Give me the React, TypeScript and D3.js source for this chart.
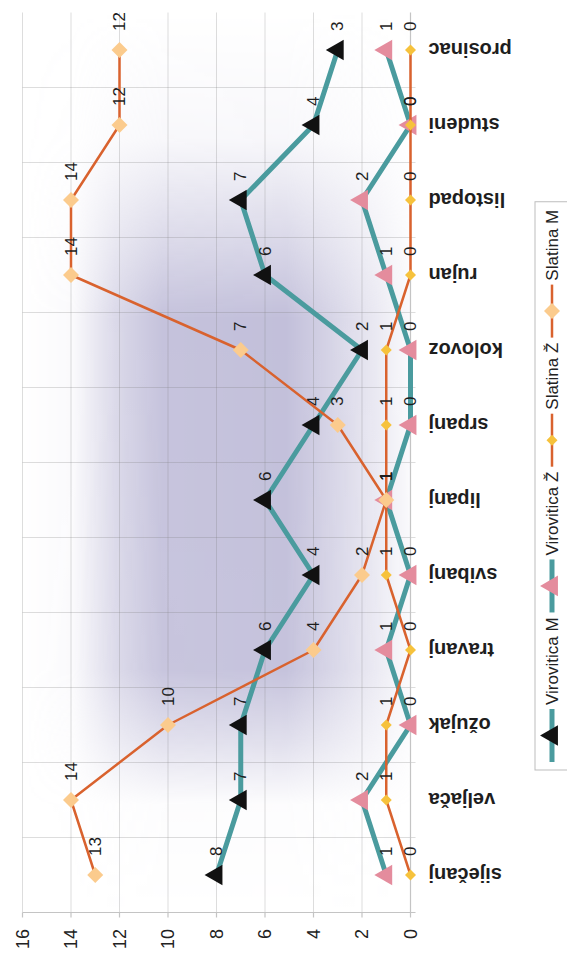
import * as d3 from "d3";

// chart data (months in Croatian)
const months = [
  "siječanj",
  "veljača",
  "ožujak",
  "travanj",
  "svibanj",
  "lipanj",
  "srpanj",
  "kolovoz",
  "rujan",
  "listopad",
  "studeni",
  "prosinac",
];
const viroviticaM = [8, 7, 7, 6, 4, 6, 4, 2, 6, 7, 4, 3];
const viroviticaZ = [1, 2, 0, 1, 0, 1, 0, 0, 1, 2, 0, 1];
const slatinaZ = [0, 1, 1, 0, 1, 1, 1, 1, 0, 0, 0, 0];
const slatinaM = [13, 14, 10, 4, 2, 1, 3, 7, 14, 14, 12, 12];
const valueTicks = [0, 2, 4, 6, 8, 10, 12, 14, 16];

interface Series {
  name: string;
  values: number[];
  stroke: string;
  strokeWidth: number;
  marker: "triangle" | "diamond";
  fill: string;
  size: number;
}

const series: Series[] = [
  { name: "Virovitica M", values: viroviticaM, stroke: "#4a9b9e", strokeWidth: 5, marker: "triangle", fill: "#111111", size: 185 },
  { name: "Virovitica Ž", values: viroviticaZ, stroke: "#4a9b9e", strokeWidth: 5, marker: "triangle", fill: "#e48c9d", size: 185 },
  { name: "Slatina Ž", values: slatinaZ, stroke: "#d9622e", strokeWidth: 2.5, marker: "diamond", fill: "#f6c23c", size: 5.5 },
  { name: "Slatina M", values: slatinaM, stroke: "#d9622e", strokeWidth: 2.5, marker: "diamond", fill: "#fbcb8d", size: 8 },
];

const FONT = "'Liberation Sans', Arial, sans-serif";

const measure = (() => {
  const ctx = document.createElement("canvas").getContext("2d")!;
  return (text: string, font: string) => {
    ctx.font = font;
    return ctx.measureText(text).width;
  };
})();

function markerPath(s: Series) {
  if (s.marker === "triangle") {
    return d3.symbol().type(d3.symbolTriangle).size(s.size)()!;
  }
  const r = s.size;
  return `M0,${-r}L${r},0L0,${r}L${-r},0Z`;
}

export default function App() {
  // the chart is laid out in a 960 x 567 frame, then turned a quarter turn
  const W = 960;
  const x = d3.scaleBand<string>().domain(months).range([47.5, 947.5]);
  const y = d3.scaleLinear().domain([0, 16]).range([410.5, 22.5]);
  const bw = x.bandwidth();
  const [x0, x1] = x.range();
  const [yBottom, yTop] = y.range();
  const cx = (i: number) => x(months[i])! + bw / 2;

  const line = d3
    .line<number>()
    .x((_, i) => cx(i))
    .y((d) => y(d));

  const boundaries = months.map((m) => x(m)!);

  // legend layout
  const legendFont = `17px ${FONT}`;
  const legendY = 552;
  let lx = 198;
  const legendItems = series.map((s) => {
    const item = { s, x: lx };
    lx += 53 + 4 + measure(s.name, legendFont) + 5;
    return item;
  });

  return (
    <svg
      width={567}
      height={960}
      style={{ position: "absolute", left: 0, top: 0, background: "#fff" }}
    >
      <defs>
        <linearGradient id="fadeX" gradientUnits="userSpaceOnUse" x1={x0} x2={x1} y1={0} y2={0}>
          <stop offset="0" stopColor="#fff" stopOpacity={0} />
          <stop offset="0.12" stopColor="#fff" stopOpacity={0.04} />
          <stop offset="0.19" stopColor="#fff" stopOpacity={0.5} />
          <stop offset="0.27" stopColor="#fff" stopOpacity={0.95} />
          <stop offset="0.66" stopColor="#fff" stopOpacity={1} />
          <stop offset="0.76" stopColor="#fff" stopOpacity={0.55} />
          <stop offset="0.86" stopColor="#fff" stopOpacity={0.12} />
          <stop offset="1" stopColor="#fff" stopOpacity={0} />
        </linearGradient>
        <linearGradient id="fadeY" gradientUnits="userSpaceOnUse" x1={0} x2={0} y1={yTop} y2={yBottom}>
          <stop offset="0" stopColor="#fff" stopOpacity={0} />
          <stop offset="0.13" stopColor="#fff" stopOpacity={0.08} />
          <stop offset="0.24" stopColor="#fff" stopOpacity={0.6} />
          <stop offset="0.36" stopColor="#fff" stopOpacity={0.95} />
          <stop offset="0.68" stopColor="#fff" stopOpacity={1} />
          <stop offset="0.84" stopColor="#fff" stopOpacity={0.55} />
          <stop offset="1" stopColor="#fff" stopOpacity={0.08} />
        </linearGradient>
        <mask id="maskX">
          <rect x={x0} y={yTop} width={x1 - x0} height={yBottom - yTop} fill="url(#fadeX)" />
        </mask>
        <mask id="maskY">
          <rect x={x0} y={yTop} width={x1 - x0} height={yBottom - yTop} fill="url(#fadeY)" />
        </mask>
      </defs>
      <g transform={`translate(0,${W}) rotate(-90)`} fontFamily={FONT}>
        {/* shaded plot background */}
        <g mask="url(#maskX)">
          <rect
            x={x0}
            y={yTop}
            width={x1 - x0}
            height={yBottom - yTop}
            fill="#c2bfda"
            mask="url(#maskY)"
          />
        </g>

        {/* gridlines */}
        {valueTicks.slice(1).map((v) => (
          <line key={"gv" + v} x1={x0} x2={x1} y1={y(v)} y2={y(v)} stroke="#7a7a7a" strokeOpacity={0.26} />
        ))}
        {boundaries.slice(1).map((b, i) => (
          <line key={"gc" + i} x1={b} x2={b} y1={yTop} y2={yBottom + 5} stroke="#7a7a7a" strokeOpacity={0.26} />
        ))}

        {/* axes */}
        <line x1={x0} x2={x1} y1={yBottom} y2={yBottom} stroke="#c4c4c4" strokeWidth={1.2} />
        <line x1={x0} x2={x0} y1={yTop} y2={yBottom + 5} stroke="#c4c4c4" strokeWidth={1.2} />
        {valueTicks.map((v) => (
          <line key={"tv" + v} x1={x0 - 5} x2={x0} y1={y(v)} y2={y(v)} stroke="#c4c4c4" strokeWidth={1.2} />
        ))}
        {valueTicks.map((v) => (
          <text key={"lv" + v} x={31} y={y(v)} textAnchor="end" dominantBaseline="central" fontSize={18} fill="#222">
            {v}
          </text>
        ))}
        {months.map((m, i) => (
          <text
            key={m}
            transform={`translate(${cx(i)},${yBottom + 18}) rotate(-90)`}
            textAnchor="end"
            dominantBaseline="central"
            fontSize={20}
            fontWeight="bold"
            fill="#1e1e1e"
          >
            {m}
          </text>
        ))}

        {/* series */}
        {series.map((s) => (
          <g key={s.name}>
            <path d={line(s.values)!} fill="none" stroke={s.stroke} strokeWidth={s.strokeWidth} strokeLinejoin="round" />
            {s.values.map((v, i) => (
              <path key={i} d={markerPath(s)} transform={`translate(${cx(i)},${y(v)})`} fill={s.fill} />
            ))}
          </g>
        ))}

        {/* data labels */}
        {series.map((s) =>
          s.values.map((v, i) => (
            <text
              key={s.name + i}
              x={cx(i) + 19}
              y={y(v)}
              dominantBaseline="central"
              fontSize={17}
              fill="#1e1e1e"
            >
              {v}
            </text>
          ))
        )}

        {/* legend */}
        <rect x={190} y={535} width={lx - 190 + 3} height={60} fill="#fff" stroke="#bdbdbd" />
        {legendItems.map(({ s, x: ix }) => (
          <g key={"lg" + s.name}>
            <line x1={ix} x2={ix + 53} y1={legendY} y2={legendY} stroke={s.stroke} strokeWidth={s.strokeWidth} />
            <path d={markerPath(s)} transform={`translate(${ix + 26.5},${legendY})`} fill={s.fill} />
            <text x={ix + 57} y={legendY} dominantBaseline="central" fontSize={17} fill="#222">
              {s.name}
            </text>
          </g>
        ))}
      </g>
    </svg>
  );
}
